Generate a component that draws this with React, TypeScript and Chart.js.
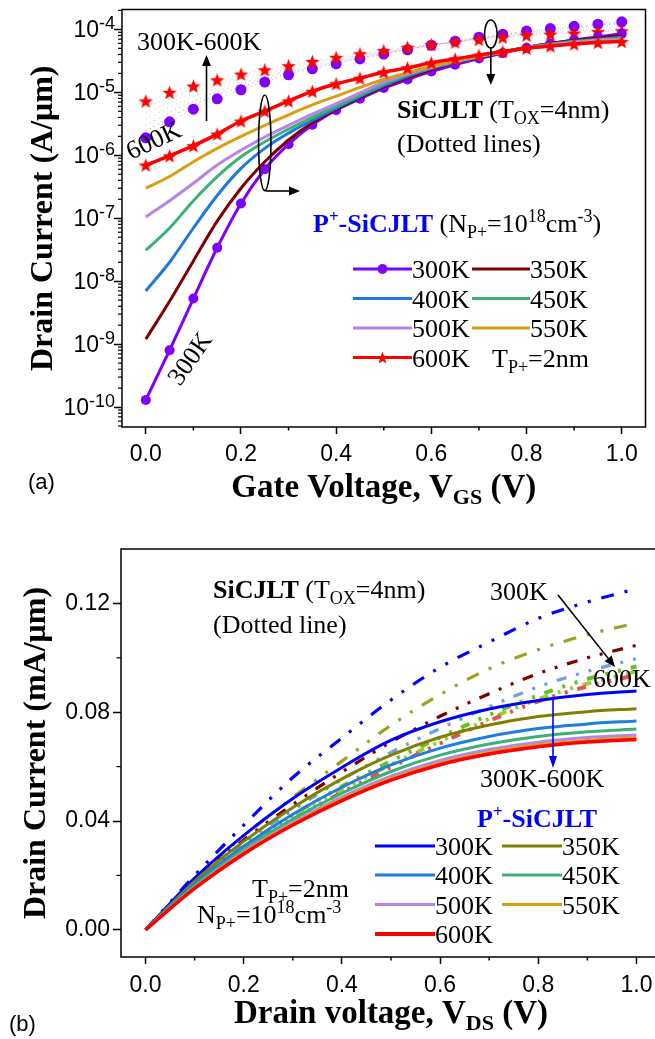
import { useEffect, useRef } from 'react';
import { Chart, registerables } from 'chart.js';

Chart.register(...registerables);

const SERIF = '"Liberation Serif", "Times New Roman", serif';
const SANS = '"Liberation Sans", Arial, sans-serif';

const temps = ['300K', '350K', '400K', '450K', '500K', '550K', '600K'];

// ---------- (a) Id–VGS, log scale ----------
const vgs = [0, 0.05, 0.1, 0.15, 0.2, 0.25, 0.3, 0.35, 0.4, 0.45, 0.5, 0.55, 0.6, 0.65, 0.7, 0.75, 0.8, 0.85, 0.9, 0.95, 1.0];
const vgsCoarse = [0, 0.1, 0.2, 0.3, 0.4, 0.5, 0.6, 0.7, 0.8, 0.9, 1.0];

// P+-SiCJLT (solid lines)
const pj300 = [1.3e-10, 8.0e-10, 5.3e-9, 3.4e-8, 1.72e-7, 6.0e-7, 1.5e-6, 3.05e-6, 5.2e-6, 7.9e-6, 1.17e-5, 1.6e-5, 2.15e-5, 2.75e-5, 3.45e-5, 4.2e-5, 5.1e-5, 5.95e-5, 6.8e-5, 7.6e-5, 8.5e-5];
const pj350 = [1.2e-9, 4.8e-9, 2.1e-8, 9.0e-8, 3.0e-7, 7.9e-7, 1.75e-6, 3.3e-6, 5.3e-6, 8.2e-6, 1.22e-5, 1.7e-5, 2.3e-5, 2.95e-5, 3.6e-5, 4.35e-5, 5.15e-5, 5.95e-5, 6.7e-5, 7.3e-5, 7.9e-5];
const pj400 = [7.0e-9, 2.0e-8, 7.0e-8, 2.3e-7, 6.2e-7, 1.29e-6, 2.25e-6, 3.6e-6, 5.6e-6, 8.6e-6, 1.28e-5, 1.8e-5, 2.4e-5, 3.0e-5, 3.65e-5, 4.4e-5, 5.15e-5, 5.85e-5, 6.5e-5, 7.0e-5, 7.5e-5];
const pj450 = [3.1e-8, 7.0e-8, 1.9e-7, 4.6e-7, 9.5e-7, 1.64e-6, 2.6e-6, 4.0e-6, 6.0e-6, 9.0e-6, 1.35e-5, 1.9e-5, 2.45e-5, 3.05e-5, 3.7e-5, 4.4e-5, 5.1e-5, 5.75e-5, 6.35e-5, 6.8e-5, 7.2e-5];
const pj500 = [1.05e-7, 1.9e-7, 3.6e-7, 7.0e-7, 1.2e-6, 1.95e-6, 3.0e-6, 4.5e-6, 6.6e-6, 9.8e-6, 1.45e-5, 1.95e-5, 2.5e-5, 3.1e-5, 3.75e-5, 4.4e-5, 5.05e-5, 5.65e-5, 6.2e-5, 6.7e-5, 7.0e-5];
const pj550 = [3.0e-7, 4.6e-7, 7.9e-7, 1.29e-6, 2.0e-6, 3.0e-6, 4.4e-6, 6.3e-6, 8.7e-6, 1.2e-5, 1.6e-5, 2.05e-5, 2.6e-5, 3.15e-5, 3.75e-5, 4.35e-5, 4.95e-5, 5.5e-5, 5.95e-5, 6.4e-5, 6.7e-5];
const pj600 = [7.0e-7, 9.8e-7, 1.42e-6, 2.17e-6, 3.5e-6, 5.05e-6, 7.3e-6, 1.04e-5, 1.37e-5, 1.68e-5, 2.1e-5, 2.45e-5, 2.95e-5, 3.4e-5, 3.9e-5, 4.45e-5, 5.0e-5, 5.45e-5, 5.85e-5, 6.2e-5, 6.4e-5];

// SiCJLT, TOX = 4 nm (dotted lines)
const sj300 = [1.9e-6, 3.4e-6, 5.4e-6, 7.9e-6, 1.1e-5, 1.46e-5, 1.9e-5, 2.36e-5, 2.84e-5, 3.4e-5, 4.05e-5, 4.75e-5, 5.6e-5, 6.5e-5, 7.5e-5, 8.4e-5, 9.4e-5, 1.03e-4, 1.12e-4, 1.21e-4, 1.32e-4];
const sj600 = [7.3e-6, 1.0e-5, 1.26e-5, 1.58e-5, 1.95e-5, 2.28e-5, 2.65e-5, 3.1e-5, 3.6e-5, 4.1e-5, 4.6e-5, 5.2e-5, 5.73e-5, 6.3e-5, 6.9e-5, 7.5e-5, 8.1e-5, 8.4e-5, 8.75e-5, 9.2e-5, 9.5e-5];
const sj350 = [2.4e-6, 6.3e-6, 1.22e-5, 2.0e-5, 2.95e-5, 4.1e-5, 5.6e-5, 7.3e-5, 9.1e-5, 1.07e-4, 1.25e-4];
const sj400 = [3.0e-6, 7.3e-6, 1.35e-5, 2.1e-5, 3.05e-5, 4.2e-5, 5.6e-5, 7.2e-5, 8.8e-5, 1.02e-4, 1.18e-4];
const sj450 = [3.8e-6, 8.5e-6, 1.5e-5, 2.2e-5, 3.2e-5, 4.3e-5, 5.65e-5, 7.1e-5, 8.6e-5, 9.8e-5, 1.11e-4];
const sj500 = [4.7e-6, 9.8e-6, 1.65e-5, 2.35e-5, 3.35e-5, 4.4e-5, 5.7e-5, 7.0e-5, 8.4e-5, 9.4e-5, 1.05e-4];
const sj550 = [5.9e-6, 1.12e-5, 1.8e-5, 2.5e-5, 3.45e-5, 4.5e-5, 5.7e-5, 6.95e-5, 8.2e-5, 9.0e-5, 1.0e-4];

const colorsA = ['#8000ff', '#800000', '#1f77e0', '#3bb273', '#b584e6', '#d6a012', '#ff0000'];
const xTicksA = [0, 0.2, 0.4, 0.6, 0.8, 1.0];
const xMinorA = [0.1, 0.3, 0.5, 0.7, 0.9];
const yDecadesA = [-10, -9, -8, -7, -6, -5, -4];

// ---------- (b) Id–VDS, linear scale ----------
const vds = [0, 0.1, 0.2, 0.3, 0.4, 0.5, 0.6, 0.7, 0.8, 0.9, 1.0];
const pb300 = [0, 0.0190, 0.0347, 0.0483, 0.0597, 0.0697, 0.0765, 0.0812, 0.0843, 0.0865, 0.0878];
const pb350 = [0, 0.0178, 0.0325, 0.0450, 0.0555, 0.0642, 0.0708, 0.0753, 0.0784, 0.0802, 0.0813];
const pb400 = [0, 0.0168, 0.0307, 0.0425, 0.0524, 0.0606, 0.0668, 0.0711, 0.0740, 0.0757, 0.0768];
const pb450 = [0, 0.0161, 0.0295, 0.0407, 0.0502, 0.0582, 0.0642, 0.0683, 0.0711, 0.0728, 0.0738];
const pb500 = [0, 0.0156, 0.0287, 0.0395, 0.0488, 0.0565, 0.0623, 0.0663, 0.0690, 0.0707, 0.0716];
const pb550 = [0, 0.0154, 0.0283, 0.0390, 0.0481, 0.0556, 0.0613, 0.0653, 0.0680, 0.0696, 0.0706];
const pb600 = [0, 0.0152, 0.0279, 0.0385, 0.0475, 0.0550, 0.0607, 0.0646, 0.0673, 0.0690, 0.0700];

const sb300 = [0, 0.0200, 0.0385, 0.0560, 0.0705, 0.0845, 0.0965, 0.1058, 0.1145, 0.1205, 0.1254];
const sb350 = [0, 0.0185, 0.0345, 0.0487, 0.0620, 0.0752, 0.0865, 0.0960, 0.1030, 0.1085, 0.1128];
const sb400 = [0, 0.0178, 0.0330, 0.0460, 0.0580, 0.0690, 0.0785, 0.0868, 0.0942, 0.1000, 0.1046];
const sb450 = [0, 0.0172, 0.0318, 0.0440, 0.0552, 0.0652, 0.0740, 0.0820, 0.0893, 0.0950, 0.0997];
const sb500 = [0, 0.0166, 0.0305, 0.0422, 0.0527, 0.0620, 0.0707, 0.0790, 0.0862, 0.0922, 0.0968];
const sb550 = [0, 0.0163, 0.0300, 0.0413, 0.0515, 0.0607, 0.0693, 0.0775, 0.0848, 0.0905, 0.0950];
const sb600 = [0, 0.0160, 0.0295, 0.0405, 0.0505, 0.0598, 0.0685, 0.0768, 0.0840, 0.0895, 0.0937];

const colorsB = ['#0000ff', '#808000', '#1f7fe0', '#3bb273', '#b584e6', '#d6a012', '#ff0000'];
const colorsBDot = ['#0000ff', '#a0a020', '#800000', '#6fa0d8', '#66c022', '#9acd32', '#e85050'];
const xTicksB = [0, 0.2, 0.4, 0.6, 0.8, 1.0];
const xMinorB = [0.1, 0.3, 0.5, 0.7, 0.9];
const yTicksB = [0, 0.04, 0.08, 0.12];
const yMinorB = [0.02, 0.06, 0.1];

// ---------- drawing helpers ----------
type Seg = { t: string; f: string; dy?: number; c?: string };

function rich(ctx: CanvasRenderingContext2D, x: number, y: number, segs: Seg[], align = 'left') {
  ctx.save();
  ctx.textBaseline = 'alphabetic';
  ctx.textAlign = 'left';
  let w = 0;
  for (const s of segs) { ctx.font = s.f; w += ctx.measureText(s.t).width; }
  let cx = align === 'left' ? x : align === 'center' ? x - w / 2 : x - w;
  for (const s of segs) {
    ctx.font = s.f;
    ctx.fillStyle = s.c || '#000';
    ctx.fillText(s.t, cx, y + (s.dy || 0));
    cx += ctx.measureText(s.t).width;
  }
  ctx.restore();
}

function arrow(ctx: CanvasRenderingContext2D, x1: number, y1: number, x2: number, y2: number, color: string, head = 11, half = 4.5) {
  const a = Math.atan2(y2 - y1, x2 - x1);
  const bx = x2 - head * Math.cos(a);
  const by = y2 - head * Math.sin(a);
  ctx.save();
  ctx.strokeStyle = color;
  ctx.fillStyle = color;
  ctx.lineWidth = 1.6;
  ctx.beginPath(); ctx.moveTo(x1, y1); ctx.lineTo(bx, by); ctx.stroke();
  ctx.beginPath();
  ctx.moveTo(x2, y2);
  ctx.lineTo(bx + half * Math.sin(a), by - half * Math.cos(a));
  ctx.lineTo(bx - half * Math.sin(a), by + half * Math.cos(a));
  ctx.closePath(); ctx.fill();
  ctx.restore();
}

function ellipse(ctx: CanvasRenderingContext2D, cx: number, cy: number, rx: number, ry: number) {
  ctx.save();
  ctx.strokeStyle = '#000';
  ctx.lineWidth = 1.6;
  ctx.beginPath(); ctx.ellipse(cx, cy, rx, ry, 0, 0, Math.PI * 2); ctx.stroke();
  ctx.restore();
}

function makeStar(color: string, outer: number, inner: number) {
  const size = Math.ceil(outer * 2) + 2;
  const c = document.createElement('canvas');
  c.width = size; c.height = size;
  const g = c.getContext('2d') as CanvasRenderingContext2D;
  g.translate(size / 2, size / 2 + outer * 0.1);
  g.beginPath();
  for (let i = 0; i < 10; i++) {
    const r = i % 2 === 0 ? outer : inner;
    const ang = -Math.PI / 2 + (i * Math.PI) / 5;
    g.lineTo(r * Math.cos(ang), r * Math.sin(ang));
  }
  g.closePath();
  g.fillStyle = color;
  g.fill();
  return c;
}

function frame(ctx: CanvasRenderingContext2D, a: any) {
  ctx.save();
  ctx.strokeStyle = '#000';
  ctx.lineWidth = 1.5;
  ctx.strokeRect(a.left, a.top, a.right - a.left, a.bottom - a.top);
  ctx.restore();
}

function minorX(ctx: CanvasRenderingContext2D, sx: any, a: any, vals: number[], len: number) {
  ctx.save(); ctx.strokeStyle = '#000'; ctx.lineWidth = 1.5;
  for (const v of vals) {
    const p = sx.getPixelForValue(v);
    ctx.beginPath(); ctx.moveTo(p, a.bottom); ctx.lineTo(p, a.bottom + len); ctx.stroke();
  }
  ctx.restore();
}

function minorY(ctx: CanvasRenderingContext2D, sy: any, a: any, vals: number[], len: number) {
  ctx.save(); ctx.strokeStyle = '#000'; ctx.lineWidth = 1.2;
  for (const v of vals) {
    const p = sy.getPixelForValue(v);
    if (p < a.top - 0.5 || p > a.bottom + 0.5) continue;
    ctx.beginPath(); ctx.moveTo(a.left - len, p); ctx.lineTo(a.left, p); ctx.stroke();
  }
  ctx.restore();
}

const F = (size: number, bold = false, fam = SERIF) => `${bold ? 'bold ' : ''}${size}px ${fam}`;
const pts = (xs: number[], ys: number[]) => xs.map((x, i) => ({ x, y: ys[i] }));

export default function App() {
  const topRef = useRef<HTMLCanvasElement>(null);
  const botRef = useRef<HTMLCanvasElement>(null);

  useEffect(() => {
    const star = makeStar('#ff0000', 7.5, 3.2);
    const starSmall = makeStar('#ff0000', 6.5, 2.8);

    // ---------------- panel (a) ----------------
    const solidA = [pj300, pj350, pj400, pj450, pj500, pj550, pj600];
    const dotMid = [sj350, sj400, sj450, sj500, sj550];
    const dsA: any[] = [];
    for (let i = 6; i >= 0; i--) {
      const d: any = {
        data: pts(vgs, solidA[i]),
        borderColor: colorsA[i],
        backgroundColor: colorsA[i],
        borderWidth: i === 6 ? 3.5 : 3,
        pointRadius: 0,
        cubicInterpolationMode: 'monotone',
      };
      if (i === 0) { d.pointRadius = 5; d.pointStyle = 'circle'; d.pointBorderWidth = 0; }
      if (i === 6) { d.pointRadius = 6; d.pointStyle = star; }
      dsA.push(d);
    }
    dsA.push({
      data: pts(vgs, sj600), borderColor: 'rgba(255,80,80,0.25)', borderWidth: 1, borderDash: [1.5, 3],
      pointRadius: 6, pointStyle: star, cubicInterpolationMode: 'monotone',
    });
    dsA.push({
      data: pts(vgs, sj300), borderColor: 'rgba(128,0,255,0.22)', backgroundColor: colorsA[0], borderWidth: 1, borderDash: [1.5, 3],
      pointRadius: 5.5, pointBorderWidth: 0, pointStyle: 'circle', cubicInterpolationMode: 'monotone',
    });
    dotMid.forEach((arr, k) => {
      dsA.push({
        data: pts(vgsCoarse, arr), borderColor: colorsA[k + 1] + '55', borderWidth: 1.1, borderDash: [1.2, 3.5],
        pointRadius: 0, cubicInterpolationMode: 'monotone',
      });
    });

    const panelA = {
      id: 'panelA',
      afterDraw(chart: any) {
        const { ctx, chartArea: a, scales } = chart;
        const sx = scales.x, sy = scales.y;
        frame(ctx, a);
        minorX(ctx, sx, a, xMinorA, 3.5);
        const minors: number[] = [];
        for (let e = -11; e <= -4; e++) for (let k = 2; k <= 9; k++) minors.push(k * Math.pow(10, e));
        minorY(ctx, sy, a, minors, 4);

        // decade labels 10^n
        for (const e of yDecadesA) {
          const p = sy.getPixelForValue(Math.pow(10, e));
          rich(ctx, a.left - 7, p + 8, [
            { t: '10', f: F(23, false, SANS) },
            { t: String(e), f: F(18, false, SANS), dy: -8 },
          ], 'right');
        }

        // axis titles
        rich(ctx, (a.left + a.right) / 2, 497, [
          { t: 'Gate Voltage, V', f: F(33, true) },
          { t: 'GS', f: F(22, true), dy: 7 },
          { t: ' (V)', f: F(33, true) },
        ], 'center');
        ctx.save();
        ctx.translate(52, (a.top + a.bottom) / 2);
        ctx.rotate(-Math.PI / 2);
        rich(ctx, 0, 0, [{ t: 'Drain Current (A/\u03bcm)', f: F(32, true) }], 'center');
        ctx.restore();

        // panel tag
        rich(ctx, 28, 489, [{ t: '(a)', f: F(22, false, SANS) }]);

        // annotations
        rich(ctx, 137, 50, [{ t: '300K-600K', f: F(26) }]);
        arrow(ctx, 206.5, 121, 206.5, 55, '#000');
        ctx.save();
        ctx.translate(131, 160);
        ctx.rotate(-0.44);
        rich(ctx, 0, 0, [{ t: '600K', f: F(26) }]);
        ctx.restore();
        ctx.save();
        ctx.translate(180, 387);
        ctx.rotate(-0.96);
        rich(ctx, 0, 0, [{ t: '300K', f: F(26) }]);
        ctx.restore();

        const ex = sx.getPixelForValue(0.25);
        ellipse(ctx, ex, 142.8, 6.2, 47.8);
        arrow(ctx, ex + 1, 191, 300, 191, '#000');
        const ex2 = sx.getPixelForValue(0.725);
        ellipse(ctx, ex2, 34, 6.3, 14);
        arrow(ctx, ex2, 48, ex2, 85, '#000');

        rich(ctx, 397, 118, [
          { t: 'SiCJLT', f: F(26, true) },
          { t: ' (T', f: F(26) },
          { t: 'OX', f: F(18), dy: 6 },
          { t: '=4nm)', f: F(26) },
        ]);
        rich(ctx, 397, 152, [{ t: '(Dotted lines)', f: F(26) }]);

        rich(ctx, 313, 232, [
          { t: 'P', f: F(26, true), c: '#0000ff' },
          { t: '+', f: F(17, true), dy: -10, c: '#0000ff' },
          { t: '-SiCJLT', f: F(26, true), c: '#0000ff' },
          { t: ' (N', f: F(26) },
          { t: 'P+', f: F(18), dy: 6 },
          { t: '=10', f: F(26) },
          { t: '18', f: F(18), dy: -10 },
          { t: 'cm', f: F(26) },
          { t: '-3', f: F(18), dy: -10 },
          { t: ')', f: F(26) },
        ]);

        // legend
        const rowsY = [269, 298.5, 328, 357.5];
        const cols = [[353, 412], [472, 530]];
        temps.forEach((t, i) => {
          const r = Math.floor(i / 2), c = i % 2;
          const [x1, x2] = cols[c];
          const y = rowsY[r];
          ctx.save();
          ctx.strokeStyle = colorsA[i];
          ctx.lineWidth = 3;
          ctx.beginPath(); ctx.moveTo(x1, y); ctx.lineTo(x2, y); ctx.stroke();
          if (i === 0) {
            ctx.fillStyle = colorsA[0];
            ctx.beginPath(); ctx.arc((x1 + x2) / 2, y, 5, 0, Math.PI * 2); ctx.fill();
          }
          if (i === 6) ctx.drawImage(starSmall, (x1 + x2) / 2 - starSmall.width / 2, y - starSmall.height / 2);
          ctx.restore();
          rich(ctx, x2, y + 9, [{ t, f: F(26) }]);
        });
        rich(ctx, 492, 366.5, [
          { t: 'T', f: F(26) },
          { t: 'P+', f: F(18), dy: 6 },
          { t: '=2nm', f: F(26) },
        ]);
      },
    };

    const chartA = new Chart(topRef.current as HTMLCanvasElement, {
      type: 'line',
      data: { datasets: dsA },
      options: {
        animation: false,
        responsive: false,
        devicePixelRatio: 1,
        layout: { padding: { top: 7, right: 4, left: 0, bottom: 0 } },
        plugins: { legend: { display: false }, tooltip: { enabled: false } },
        scales: {
          x: {
            type: 'linear', min: -0.05, max: 1.05,
            afterBuildTicks: (s: any) => { s.ticks = xTicksA.map((v) => ({ value: v })); },
            afterFit: (s: any) => { s.height = 93; },
            ticks: { font: { family: SANS, size: 23 }, color: '#000', padding: 7, maxRotation: 0, callback: (v: any) => Number(v).toFixed(1) },
            grid: { drawOnChartArea: false, tickLength: 7, tickWidth: 1.5, tickColor: '#000' },
            border: { display: false },
          },
          y: {
            type: 'logarithmic', min: 4.83e-11, max: 2.07e-4,
            afterBuildTicks: (s: any) => { s.ticks = yDecadesA.map((e) => ({ value: Math.pow(10, e) })); },
            afterFit: (s: any) => { s.width = 122; },
            ticks: { display: false },
            grid: { drawOnChartArea: false, tickLength: 8, tickWidth: 1.5, tickColor: '#000' },
            border: { display: false },
          },
        },
      } as any,
      plugins: [panelA],
    });

    // ---------------- panel (b) ----------------
    const solidB = [pb300, pb350, pb400, pb450, pb500, pb550, pb600];
    const dotB = [sb300, sb350, sb400, sb450, sb500, sb550, sb600];
    const dashB = [
      [13, 11, 3, 11, 3, 11],
      [13, 11, 3, 11, 3, 11],
      [11, 10, 3, 10, 3, 10],
      [10, 10, 3, 10, 3, 10],
      [9, 10, 3, 10, 3, 10],
      [9, 10, 3, 10, 3, 10],
      [9, 10, 3, 10, 3, 10],
    ];
    const dsB: any[] = [];
    for (let i = 6; i >= 0; i--) {
      dsB.push({
        data: pts(vds, solidB[i]), borderColor: colorsB[i], borderWidth: i === 6 ? 3.5 : 3,
        pointRadius: 0, cubicInterpolationMode: 'monotone',
      });
    }
    for (let i = 6; i >= 0; i--) {
      dsB.push({
        data: pts(vds, dotB[i]), borderColor: colorsBDot[i], borderWidth: i >= 4 ? 4 : 3.2,
        borderDash: dashB[i], borderDashOffset: i * 7, borderCapStyle: 'butt',
        pointRadius: 0, cubicInterpolationMode: 'monotone',
      });
    }

    const panelB = {
      id: 'panelB',
      afterDraw(chart: any) {
        const { ctx, chartArea: a, scales } = chart;
        const sx = scales.x, sy = scales.y;
        frame(ctx, a);
        minorX(ctx, sx, a, xMinorB, 3.5);
        minorY(ctx, sy, a, yMinorB, 4.5);

        rich(ctx, (a.left + a.right) / 2, 503, [
          { t: 'Drain voltage, V', f: F(33, true) },
          { t: 'DS', f: F(22, true), dy: 7 },
          { t: ' (V)', f: F(33, true) },
        ], 'center');
        ctx.save();
        ctx.translate(45, (a.top + a.bottom) / 2);
        ctx.rotate(-Math.PI / 2);
        rich(ctx, 0, 0, [{ t: 'Drain Current (mA/\u03bcm)', f: F(32, true) }], 'center');
        ctx.restore();

        rich(ctx, 9, 511, [{ t: '(b)', f: F(22, false, SANS) }]);

        rich(ctx, 213, 78, [
          { t: 'SiCJLT', f: F(26, true) },
          { t: ' (T', f: F(26) },
          { t: 'OX', f: F(18), dy: 6 },
          { t: '=4nm)', f: F(26) },
        ]);
        rich(ctx, 213, 113, [{ t: '(Dotted line)', f: F(26) }]);

        rich(ctx, 490, 80, [{ t: '300K', f: F(26) }]);
        arrow(ctx, 558, 75, 615, 147, '#000');
        rich(ctx, 593, 167, [{ t: '600K', f: F(26) }]);

        const ax = sx.getPixelForValue(0.83);
        arrow(ctx, ax, sy.getPixelForValue(0.0852), ax, sy.getPixelForValue(0.0595), '#0000ff', 12, 4);
        rich(ctx, 480, 267, [{ t: '300K-600K', f: F(26) }]);

        rich(ctx, 477, 307, [
          { t: 'P', f: F(26, true), c: '#0000ff' },
          { t: '+', f: F(17, true), dy: -10, c: '#0000ff' },
          { t: '-SiCJLT', f: F(26, true), c: '#0000ff' },
        ]);

        const rowsY = [326, 355, 384.5, 414];
        const cols = [[375, 435], [502, 562]];
        temps.forEach((t, i) => {
          const r = Math.floor(i / 2), c = i % 2;
          const [x1, x2] = cols[c];
          const y = rowsY[r];
          ctx.save();
          ctx.strokeStyle = colorsB[i];
          ctx.lineWidth = i === 6 ? 4 : 3.2;
          ctx.beginPath(); ctx.moveTo(x1, y); ctx.lineTo(x2, y); ctx.stroke();
          ctx.restore();
          rich(ctx, x2, y + 9, [{ t, f: F(26) }]);
        });

        rich(ctx, 252, 377, [
          { t: 'T', f: F(26) },
          { t: 'P+', f: F(18), dy: 6 },
          { t: '=2nm', f: F(26) },
        ]);
        rich(ctx, 197, 403, [
          { t: 'N', f: F(26) },
          { t: 'P+', f: F(18), dy: 6 },
          { t: '=10', f: F(26) },
          { t: '18', f: F(18), dy: -10 },
          { t: 'cm', f: F(26) },
          { t: '-3', f: F(18), dy: -10 },
        ]);
      },
    };

    const chartB = new Chart(botRef.current as HTMLCanvasElement, {
      type: 'line',
      data: { datasets: dsB },
      options: {
        animation: false,
        responsive: false,
        devicePixelRatio: 1,
        layout: { padding: { top: 29, right: 19, left: 0, bottom: 0 } },
        plugins: { legend: { display: false }, tooltip: { enabled: false } },
        scales: {
          x: {
            type: 'linear', min: -0.05, max: 1.05,
            afterBuildTicks: (s: any) => { s.ticks = xTicksB.map((v) => ({ value: v })); },
            afterFit: (s: any) => { s.height = 82; },
            ticks: { font: { family: SANS, size: 23 }, color: '#000', padding: 8, maxRotation: 0, callback: (v: any) => Number(v).toFixed(1) },
            grid: { drawOnChartArea: false, tickLength: 7, tickWidth: 1.5, tickColor: '#000' },
            border: { display: false },
          },
          y: {
            type: 'linear', min: -0.01, max: 0.14,
            afterBuildTicks: (s: any) => { s.ticks = yTicksB.map((v) => ({ value: v })); },
            afterFit: (s: any) => { s.width = 121; },
            ticks: { font: { family: SANS, size: 23 }, color: '#000', padding: 3, callback: (v: any) => Number(v).toFixed(2) },
            grid: { drawOnChartArea: false, tickLength: 8, tickWidth: 1.5, tickColor: '#000' },
            border: { display: false },
          },
        },
      } as any,
      plugins: [panelB],
    });

    return () => { chartA.destroy(); chartB.destroy(); };
  }, []);

  return (
    <div style={{ position: 'absolute', left: 0, top: 0, width: 655, height: 1039, overflow: 'hidden', background: '#fff' }}>
      <canvas ref={topRef} width={655} height={520} style={{ position: 'absolute', left: 0, top: 0 }} />
      <canvas ref={botRef} width={680} height={519} style={{ position: 'absolute', left: 0, top: 520 }} />
    </div>
  );
}
